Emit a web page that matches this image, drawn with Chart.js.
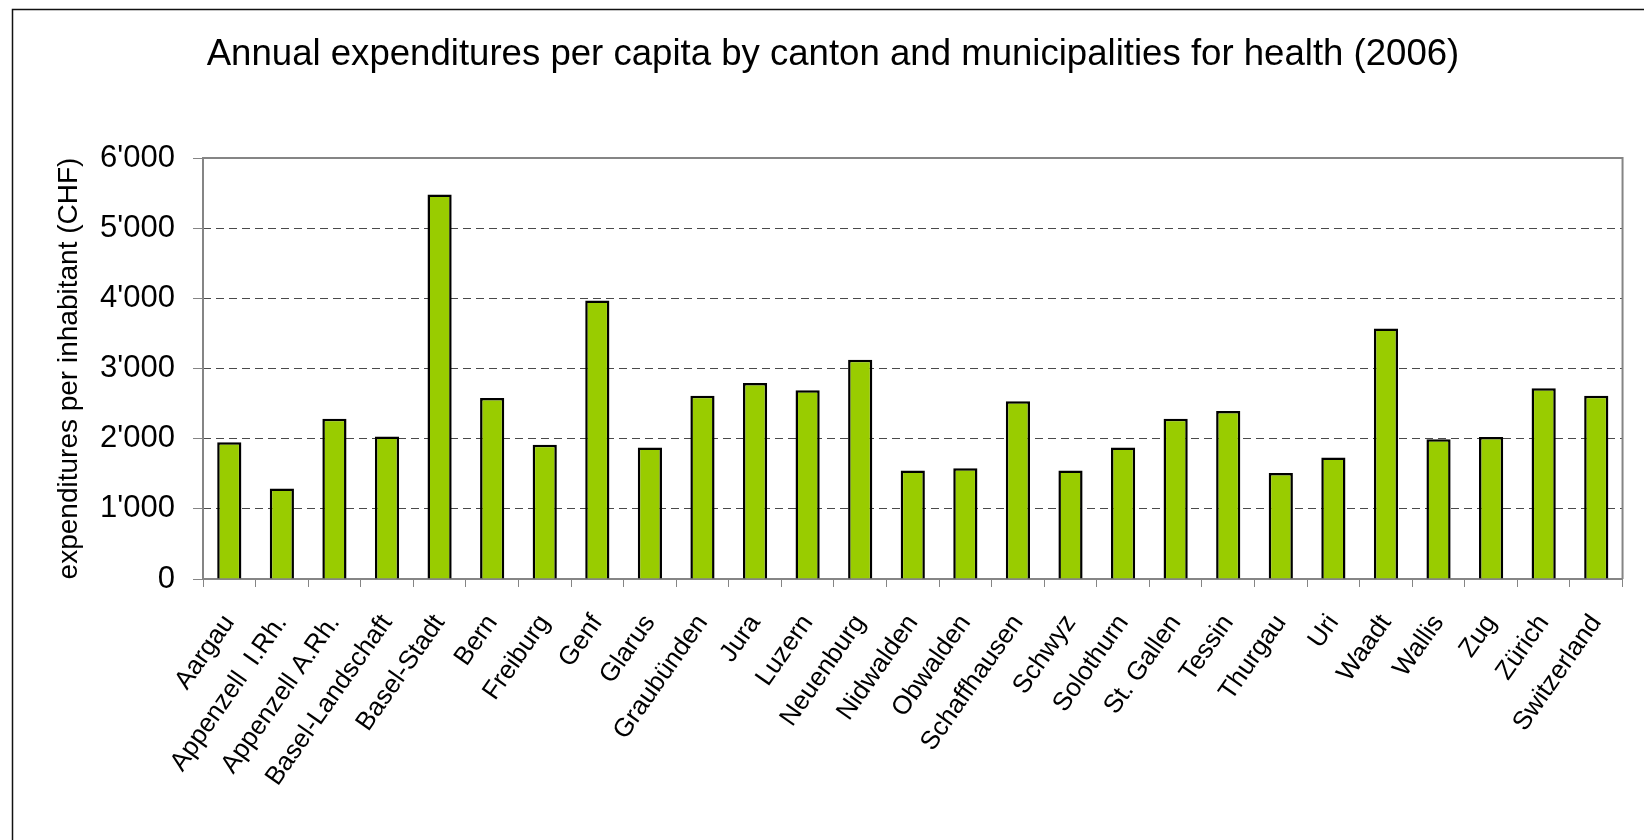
<!DOCTYPE html>
<html>
<head>
<meta charset="utf-8">
<script src="https://cdn.jsdelivr.net/npm/chart.js@4.4.1/dist/chart.umd.min.js"></script>
<style>
  html, body { margin: 0; padding: 0; background: #ffffff; }
  #wrap { width: 1644px; height: 840px; position: relative; }
</style>
</head>
<body>
<div id="wrap"><canvas id="chart" width="1644" height="840"></canvas></div>
<script>
// Cantons (plus the national figure) in display order
const cantons = [
  "Aargau", "Appenzell  I.Rh.", "Appenzell A.Rh.", "Basel-Landschaft", "Basel-Stadt",
  "Bern", "Freiburg", "Genf", "Glarus", "Graubünden", "Jura", "Luzern", "Neuenburg",
  "Nidwalden", "Obwalden", "Schaffhausen", "Schwyz", "Solothurn", "St. Gallen",
  "Tessin", "Thurgau", "Uri", "Waadt", "Wallis", "Zug", "Zürich", "Switzerland"
];

// Health expenditures per inhabitant in CHF, 2006
const expenditurePerCapita = [
  1950, 1290, 2285, 2030, 5480,
  2580, 1915, 3970, 1875, 2610, 2795, 2690, 3125,
  1545, 1580, 2535, 1545, 1875, 2285,
  2395, 1510, 1730, 3570, 1990, 2025, 2720, 2610
];

// Value axis ticks
const yTickValues = [0, 1000, 2000, 3000, 4000, 5000, 6000];
const yTickLabels = ["0", "1'000", "2'000", "3'000", "4'000", "5'000", "6'000"];

const chartTitle = "Annual expenditures per capita by canton and municipalities for health (2006)";
const yAxisTitle = "expenditures per inhabitant (CHF)";

const FONT = "'Liberation Sans', Arial, Helvetica, sans-serif";
const AXIS_GRAY = "#858585";

// White page, outer frame, heading and the solid edges of the plot area
const framePlugin = {
  id: 'frame',
  beforeDraw(chart) {
    const ctx = chart.ctx;
    ctx.save();
    ctx.fillStyle = '#ffffff';
    ctx.fillRect(0, 0, chart.width, chart.height);
    ctx.strokeStyle = '#111111';
    ctx.lineWidth = 1.5;
    ctx.beginPath();
    ctx.moveTo(12.5, chart.height);
    ctx.lineTo(12.5, 9.5);
    ctx.lineTo(chart.width, 9.5);
    ctx.stroke();

    ctx.fillStyle = '#000000';
    ctx.font = "36.6px " + FONT;
    ctx.textAlign = 'center';
    ctx.textBaseline = 'middle';
    ctx.fillText(chartTitle, 833, 55);
    ctx.restore();
  },
  afterDatasetsDraw(chart) {
    const {ctx, chartArea: a} = chart;
    ctx.save();
    ctx.strokeStyle = AXIS_GRAY;
    ctx.lineWidth = 2;
    ctx.setLineDash([]);
    ctx.beginPath();
    ctx.moveTo(a.left, a.bottom);
    ctx.lineTo(a.left, a.top);
    ctx.lineTo(a.right, a.top);
    ctx.lineTo(a.right, a.bottom);
    ctx.stroke();
    ctx.restore();
  }
};

new Chart(document.getElementById('chart'), {
  type: 'bar',
  data: {
    labels: cantons,
    datasets: [{
      data: expenditurePerCapita,
      backgroundColor: '#99CC00',
      borderColor: '#000000',
      borderWidth: 2.5,
      borderSkipped: 'bottom',
      categoryPercentage: 1.0,
      barPercentage: 0.46
    }]
  },
  options: {
    responsive: false,
    animation: false,
    devicePixelRatio: 1,
    layout: { padding: { left: 0, right: 10, top: 158, bottom: 0 } },
    plugins: {
      legend: { display: false },
      tooltip: { enabled: false },
      title: { display: false }
    },
    scales: {
      x: {
        type: 'category',
        offset: true,
        afterFit(scale) { scale.height = 261; },
        border: { display: true, color: AXIS_GRAY, width: 2 },
        grid: {
          display: true,
          offset: true,
          drawOnChartArea: false,
          drawTicks: true,
          tickLength: 8,
          tickColor: AXIS_GRAY,
          tickWidth: 1,
          tickBorderDash: []
        },
        ticks: {
          autoSkip: false,
          minRotation: 55,
          maxRotation: 55,
          padding: 22,
          color: '#000000',
          font: { family: FONT, size: 26 }
        }
      },
      y: {
        min: 0,
        max: 6000,
        afterFit(scale) { scale.width = 203; },
        afterBuildTicks(scale) { scale.ticks = yTickValues.map(v => ({ value: v })); },
        border: { display: false, dash: [8, 5] },
        grid: {
          display: true,
          drawTicks: true,
          tickLength: 10,
          tickColor: AXIS_GRAY,
          tickWidth: 1,
          tickBorderDash: [],
          color: (ctx) => (ctx.tick && (ctx.tick.value === 0 || ctx.tick.value === 6000)) ? 'rgba(0,0,0,0)' : '#4a4a4a',
          lineWidth: 1
        },
        ticks: {
          padding: 18,
          color: '#000000',
          font: { family: FONT, size: 31 },
          callback: (value) => yTickLabels[yTickValues.indexOf(value)]
        },
        title: {
          display: true,
          text: yAxisTitle,
          color: '#000000',
          font: { family: FONT, size: 28, weight: 'normal' },
          padding: { top: 52, bottom: 0 }
        }
      }
    }
  },
  plugins: [framePlugin]
});
</script>
</body>
</html>
